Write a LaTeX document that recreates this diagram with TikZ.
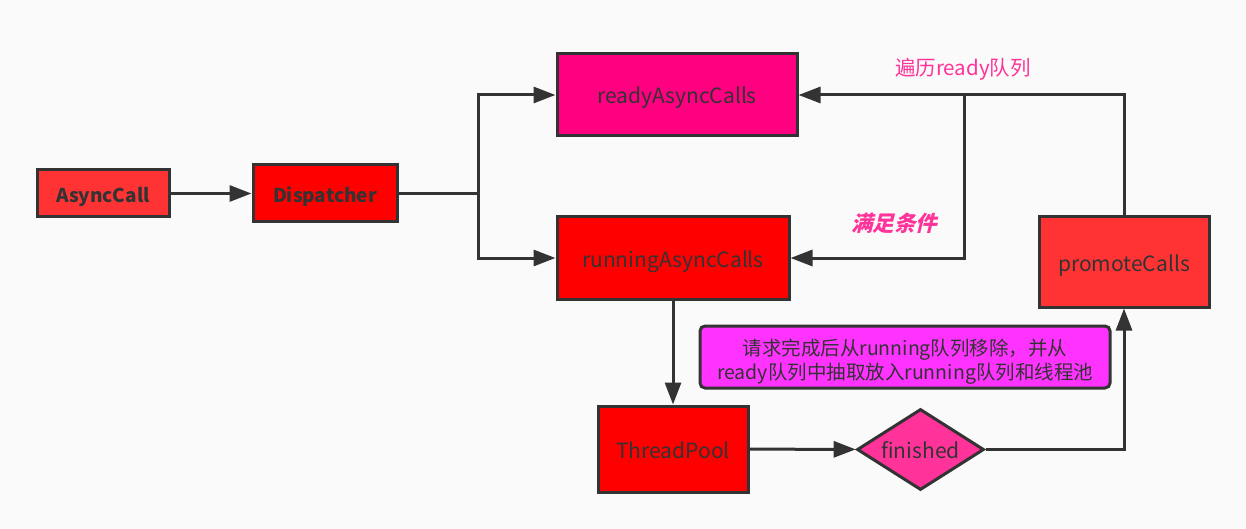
\documentclass[tikz,border=0pt]{standalone}
\usepackage{fontspec}
\setmainfont{Noto Sans CJK SC}
\newfontfamily\slantcjk{Noto Sans CJK SC}[FakeSlant=0.25]
\usepackage{xcolor}
\usetikzlibrary{shapes.geometric, arrows.meta, calc}

\definecolor{bggray}{HTML}{FAFAFA}
\definecolor{linegray}{HTML}{333333}
\definecolor{lightred}{HTML}{FF3333}
\definecolor{purered}{HTML}{FF0000}
\definecolor{rosered}{HTML}{FF0080}
\definecolor{hotpink}{HTML}{FF3399}
\definecolor{violetpink}{HTML}{FF33FF}
\definecolor{labelpink}{HTML}{FF3399}

\newcommand{\noteline}[1]{\raisebox{-10.5pt}[0pt][0pt]{#1}}

\tikzset{
  outline/.style={draw=linegray, line width=3pt, text=linegray, inner sep=0pt},
  box/.style={outline, text height=22pt, text depth=4pt,
    font=\fontsize{21}{25}\selectfont},
  boldbox/.style={outline, text height=22pt, text depth=4pt,
    font=\fontsize{19}{23}\selectfont\bfseries},
  flow/.style={draw=linegray, line width=3pt, -{Triangle[length=22pt,width=16pt]}},
  link/.style={draw=linegray, line width=3pt},
}

\begin{document}
\begin{tikzpicture}[x=1pt,y=-1pt]
  % Canvas
  \fill[bggray] (0,0) rectangle (1246,529);
  \useasboundingbox (0,0) rectangle (1246,529);

  % Boxes
  \node[boldbox, fill=lightred, minimum width=132pt, minimum height=47pt]
    (async) at (103,193.5) {AsyncCall};
  \node[boldbox, fill=purered, minimum width=144pt, minimum height=57pt]
    (dispatcher) at (325,193.5) {Dispatcher};
  \node[box, fill=rosered, minimum width=240pt, minimum height=82pt]
    (ready) at (677,95) {readyAsyncCalls};
  \node[box, fill=purered, minimum width=232pt, minimum height=82pt]
    (running) at (673,258) {runningAsyncCalls};
  \node[box, fill=lightred, minimum width=170pt, minimum height=90pt]
    (promote) at (1124,262) {promoteCalls};
  \node[box, fill=purered, minimum width=150pt, minimum height=86pt]
    (pool) at (673,449) {ThreadPool};
  \node[box, diamond, fill=hotpink, minimum width=127pt, minimum height=81pt, aspect=1.57]
    (finished) at (920.5,449.5) {finished};

  % Note
  \node[outline, fill=violetpink, rounded corners=5pt, minimum width=410pt, minimum height=62pt,
    align=center, font=\fontsize{19.5}{24}\selectfont]
    (note) at (905,357) {\noteline{请求完成后从running队列移除，并从}\\\noteline{ready队列中抽取放入running队列和线程池}};

  % Split points
  \coordinate (split) at (478,193.5);
  \coordinate (branch) at (964,95);

  % Connectors
  \draw[flow] (async) -- (dispatcher);
  \draw[link] (dispatcher) -- (split);
  \draw[flow] (split) |- (ready);
  \draw[flow] (split) |- (running);
  \draw[flow] (promote.north) |- (ready.east);
  \draw[flow] (branch) |- (running.east);
  \draw[flow] (running) -- (pool);
  \draw[flow] (pool) -- (finished);
  \draw[flow] (finished.east) -| (promote.south);

  % Labels
  \node[text=labelpink, font=\fontsize{20.5}{24}\selectfont] (travlabel) at (963,69) {遍历ready队列};
  \node[text=labelpink, font=\fontsize{21.5}{25}\selectfont\slantcjk\bfseries] (condlabel) at (894,223) {满足条件};
\end{tikzpicture}
\end{document}
